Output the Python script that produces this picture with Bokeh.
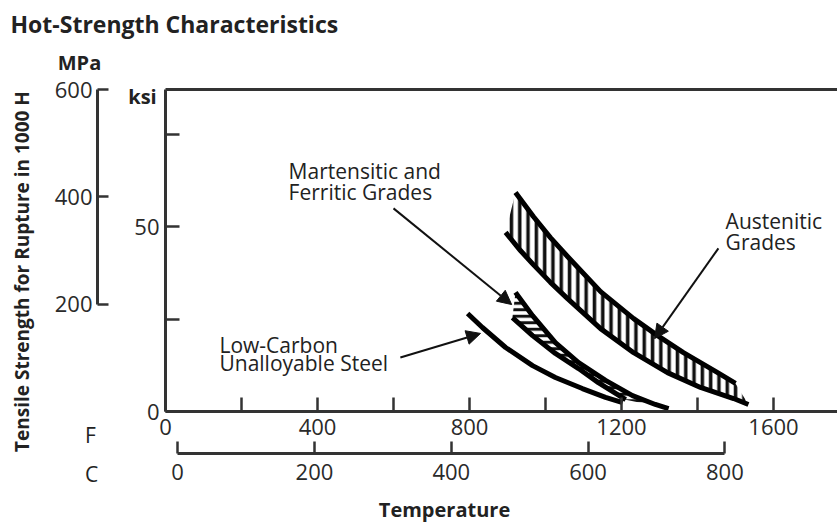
from bokeh.plotting import figure
from bokeh.models import (Range1d, LinearAxis, FixedTicker, Label, LabelSet,
                          ColumnDataSource, Arrow, NormalHead)
from bokeh.embed import file_html
from bokeh.resources import INLINE
from bokeh.core.properties import value

# ---------------- data (temperature in deg F, strength in ksi) ----------------
aus_upper_f = [921, 968, 1013, 1058, 1145, 1232, 1295, 1363, 1453, 1500]
aus_upper_ksi = [59.2, 52.7, 47.0, 41.9, 32.4, 25.1, 20.5, 15.9, 10.5, 7.6]
aus_lower_f = [895, 934, 968, 1013, 1058, 1145, 1232, 1321, 1408, 1495, 1534]
aus_lower_ksi = [48.4, 43.5, 39.7, 34.9, 30.5, 22.4, 15.9, 10.5, 6.5, 3.5, 1.9]

mart_upper_f = [921, 966, 1026, 1087, 1158, 1229, 1289, 1324]
mart_upper_ksi = [32.2, 25.9, 18.6, 13.2, 8.4, 4.3, 1.9, 0.8]
mart_lower_f = [913, 966, 1026, 1087, 1139, 1211]
mart_lower_ksi = [25.4, 20.5, 15.7, 11.6, 7.8, 3.2]

lowc_f = [795, 834, 895, 966, 1026, 1097, 1158, 1203]
lowc_ksi = [26.5, 22.7, 17.3, 12.4, 9.2, 6.2, 3.8, 2.4]

f_ticks = [0, 200, 400, 600, 800, 1000, 1200, 1400, 1600]
f_labeled = [0, 400, 800, 1200, 1600]
ksi_ticks = [0, 25, 50, 75]
ksi_labeled = [0, 50]
mpa_ticks = [200, 400, 600]
c_ticks = [0, 200, 400, 600, 800]

ann_text = ["Martensitic and", "Ferritic Grades", "Low-Carbon", "Unalloyable Steel",
            "Austenitic", "Grades"]
ann_f = [324, 324, 142, 142, 1474, 1474]
ann_ksi = [64.9, 59.2, 18.1, 13.0, 51.6, 45.9]

arrow_f0 = [600, 618, 1455]
arrow_k0 = [54.9, 14.6, 44.1]
arrow_f1 = [911, 829, 1287]
arrow_k1 = [28.9, 21.1, 19.7]

# ---------------- layout constants (pixels) ----------------
W, H = 837, 522
X0, Y0 = 165, 411          # pixel position of (0 F, 0 ksi)
PX_F, PX_KSI = 0.38, 3.7   # pixels per deg F, per ksi
KSI_TOP = 87.03            # top frame line
MPA_PER_KSI = 6.89476


def fx(px):
    return (px - X0) / PX_F


def ky(py):
    return (Y0 - py) / PX_KSI


x_lo, x_hi = fx(0), fx(W)
y_lo, y_hi = ky(H), ky(0)

p = figure(width=W, height=H, output_backend="svg", toolbar_location=None, title=None,
           x_range=Range1d(x_lo, x_hi), y_range=Range1d(y_lo, y_hi),
           x_axis_location=None, y_axis_location=None,
           min_border=0, min_border_left=0, min_border_right=0,
           min_border_top=0, min_border_bottom=0)
p.outline_line_color = None
p.background_fill_color = "white"
p.border_fill_color = "white"
p.grid.visible = False

p.extra_y_ranges = {"mpa": Range1d(y_lo * MPA_PER_KSI, y_hi * MPA_PER_KSI)}
p.extra_x_ranges = {"c": Range1d((x_lo - 32) / 1.8, (x_hi - 32) / 1.8)}

AX = "#333333"
FONT = "Open Sans"


def style(ax, standoff, tick_len=14):
    ax.axis_line_color = AX
    ax.axis_line_width = 3
    ax.major_tick_line_color = AX
    ax.major_tick_line_width = 2.5
    ax.major_tick_in = tick_len
    ax.major_tick_out = 0
    ax.minor_tick_line_color = None
    ax.major_label_text_font = FONT
    ax.major_label_text_font_size = "22px"
    ax.major_label_text_color = "#2a2a2a"
    ax.major_label_standoff = standoff


fax = LinearAxis(ticker=FixedTicker(ticks=f_ticks), fixed_location=0, bounds=(0, x_hi),
                 major_label_overrides={t: (str(t) if t in f_labeled else "") for t in f_ticks})
style(fax, 7)
p.add_layout(fax, "below")

cax = LinearAxis(x_range_name="c", ticker=FixedTicker(ticks=c_ticks),
                 fixed_location=ky(453), bounds=(0, 800))
style(cax, 10, 12)
p.add_layout(cax, "below")

kax = LinearAxis(ticker=FixedTicker(ticks=ksi_ticks), fixed_location=0, bounds=(0, KSI_TOP),
                 major_label_overrides={t: (str(t) if t in ksi_labeled else "") for t in ksi_ticks})
style(kax, 6)
p.add_layout(kax, "left")

max_ = LinearAxis(y_range_name="mpa", ticker=FixedTicker(ticks=mpa_ticks),
                  fixed_location=fx(97), bounds=(200, 600))
style(max_, 5, 11)
p.add_layout(max_, "left")

tax = LinearAxis(ticker=FixedTicker(ticks=[]), fixed_location=KSI_TOP, bounds=(0, x_hi))
style(tax, 0)
tax.major_label_text_font_size = "0px"
p.add_layout(tax, "above")

# ---------------- bands & curves ----------------
p.patch(aus_upper_f + aus_lower_f[::-1], aus_upper_ksi + aus_lower_ksi[::-1],
        fill_color="white", fill_alpha=0, line_color=None,
        hatch_pattern="|", hatch_scale=8.3, hatch_weight=3.5, hatch_color="#111111")
p.patch(mart_upper_f + mart_lower_f[::-1], mart_upper_ksi + mart_lower_ksi[::-1],
        fill_color="white", fill_alpha=0, line_color=None,
        hatch_pattern="-", hatch_scale=6.5, hatch_weight=3, hatch_color="#111111")

for xs, ys in [(aus_upper_f, aus_upper_ksi), (aus_lower_f, aus_lower_ksi),
               (mart_upper_f, mart_upper_ksi), (mart_lower_f, mart_lower_ksi),
               (lowc_f, lowc_ksi)]:
    p.line(xs, ys, line_color="black", line_width=5, line_join="round")

# ---------------- arrows ----------------
asrc = ColumnDataSource(dict(x0=arrow_f0, y0=arrow_k0, x1=arrow_f1, y1=arrow_k1))
p.add_layout(Arrow(x_start="x0", y_start="y0", x_end="x1", y_end="y1", source=asrc,
                   line_color="#111111", line_width=2,
                   end=NormalHead(size=14, fill_color="#111111", line_color="#111111")))

# ---------------- annotation text ----------------
tsrc = ColumnDataSource(dict(x=ann_f, y=ann_ksi, text=ann_text))
p.add_layout(LabelSet(x="x", y="y", text="text", source=tsrc,
                      text_font=value(FONT), text_font_size="21px",
                      text_color="#222222", text_baseline="middle", text_align="left"))


def lbl(text, px, py, size, bold=False, align="left", angle=0.0):
    p.add_layout(Label(x=fx(px), y=ky(py), text=text, text_font=FONT, text_font_size=size,
                       text_font_style="bold" if bold else "normal",
                       text_color="#222222", text_align=align, text_baseline="middle",
                       angle=angle, angle_units="deg"))


lbl("Hot-Strength Characteristics", 10, 23, "23px", bold=True)
lbl("MPa", 79, 62, "20px", bold=True, align="center")
lbl("ksi", 142, 96, "20px", bold=True, align="center")
lbl("F", 90, 434, "21px", align="center")
lbl("C", 91, 473, "21px", align="center")
lbl("Temperature", 444, 509, "20px", bold=True, align="center")
lbl("Tensile Strength for Rupture in 1000 H", 21, 271, "19px", bold=True,
    align="center", angle=90)

open("out.html", "w").write(file_html(p, INLINE, title="Hot-Strength Characteristics"))
